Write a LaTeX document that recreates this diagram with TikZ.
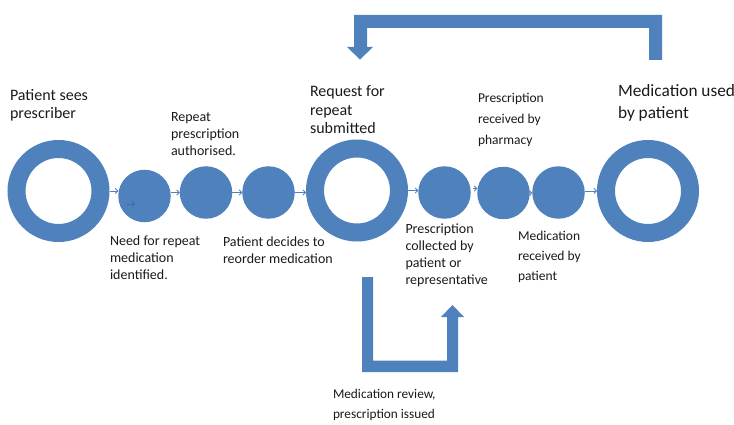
\documentclass[tikz,border=0pt]{standalone}
\usepackage{fontspec}
\setmainfont{Carlito}
\usetikzlibrary{arrows.meta}
\definecolor{obl}{HTML}{4F81BD}
\definecolor{obldark}{HTML}{3F6CA8}
\definecolor{txt}{HTML}{1A1A1A}
\tikzset{
  ring/.style={circle, draw=obl, line width=18pt, minimum size=84pt, inner sep=0pt, outer sep=9pt},
  dot/.style={circle, fill=obl, minimum size=52.5pt, inner sep=0pt, outer sep=0pt},
  smallarrow/.style={draw=obl, line width=0.8pt, -{Straight Barb[length=2.5pt,width=5pt]}},
  bigarrow/.style={fill=obl, draw=none},
  lbl/.style={anchor=north west, inner sep=0pt, outer sep=0pt, align=left, text=txt},
  bigtext/.style={lbl, font=\fontsize{16}{18.5}\selectfont},
  hugetext/.style={lbl, font=\fontsize{17.3}{22}\selectfont},
  smalltext/.style={lbl, font=\fontsize{14}{17}\selectfont},
  spacedtext/.style={lbl, font=\fontsize{13.5}{21}\selectfont}
}
\begin{document}
\begin{tikzpicture}[x=1pt, y=-1pt]
\useasboundingbox (0,0) rectangle (734,425);

% rings and circles
\node[ring] (r1) at (58.5,191) {};
\node[ring] (r2) at (357,190.5) {};
\node[ring] (r3) at (648,191) {};
\node[dot] (c1) at (144.5,196) {};
\node[dot] (c2) at (206,192.5) {};
\node[dot] (c3) at (268.5,192.5) {};
\node[dot] (c4) at (444.5,192.5) {};
\node[dot] (c5) at (503.5,193) {};
\node[dot] (c6) at (558.5,192.5) {};

% small arrows
\draw[smallarrow] (r1.east) -- (r1.east -| c1.west);
\draw[smallarrow] (c1.east |- c2.west) -- (c2.west);
\draw[smallarrow] (c2.east) -- (c3.west);
\draw[smallarrow] (c3.east) -- (c3.east -| r2.west);
\draw[smallarrow] (r2.east) -- (r2.east -| c4.west);
\coordinate (a45) at (473,188.5);
\draw[smallarrow] (a45) -- (a45 -| c5.west);
\draw[smallarrow] (c5.east) -- (c6.west);
\draw[smallarrow] (c6.east |- r3.west) -- (r3.west);
\coordinate (s1) at (127,204);
\coordinate (s2) at (135,204);
\draw[smallarrow, draw=obldark] (s1) -- (s2);

% top bent block arrow
\fill[bigarrow] (649,60) -- (649,28) -- (367,28) -- (367,47) -- (373,47) -- (360,59.5)
  -- (347,47) -- (354,47) -- (354,15) -- (662,15) -- (662,60) -- cycle;

% bottom bent block arrow
\fill[bigarrow] (362,277) -- (362,372) -- (458,372) -- (458,317) -- (464,317) -- (452.5,305)
  -- (441,317) -- (447,317) -- (447,360.5) -- (373,360.5) -- (373,277) -- cycle;

% labels
\node[bigtext] (t1) at (10,89) {Patient sees\\prescriber};
\node[bigtext] (t2) at (310,86) {Request for\\repeat\\submitted};
\node[hugetext] (t3) at (618,84.5) {Medication used\\by patient};
\node[smalltext] (t4) at (171,113) {Repeat\\prescription\\authorised.};
\node[smalltext] (t5) at (110,236) {Need for repeat\\medication\\identified.};
\node[smalltext] (t6) at (223,237) {Patient decides to\\reorder medication};
\node[smalltext] (t7) at (405.5,223.5) {Prescription\\collected by\\patient or\\representative};
\node[spacedtext] (t8) at (478,93.5) {Prescription\\received by\\pharmacy};
\node[spacedtext, font=\fontsize{13.5}{20}\selectfont] (t9) at (518,231.5) {Medication\\received by\\patient};
\node[spacedtext, font=\fontsize{13.3}{19.5}\selectfont] (t10) at (333,389.5) {Medication review,\\prescription issued};
\end{tikzpicture}
\end{document}
